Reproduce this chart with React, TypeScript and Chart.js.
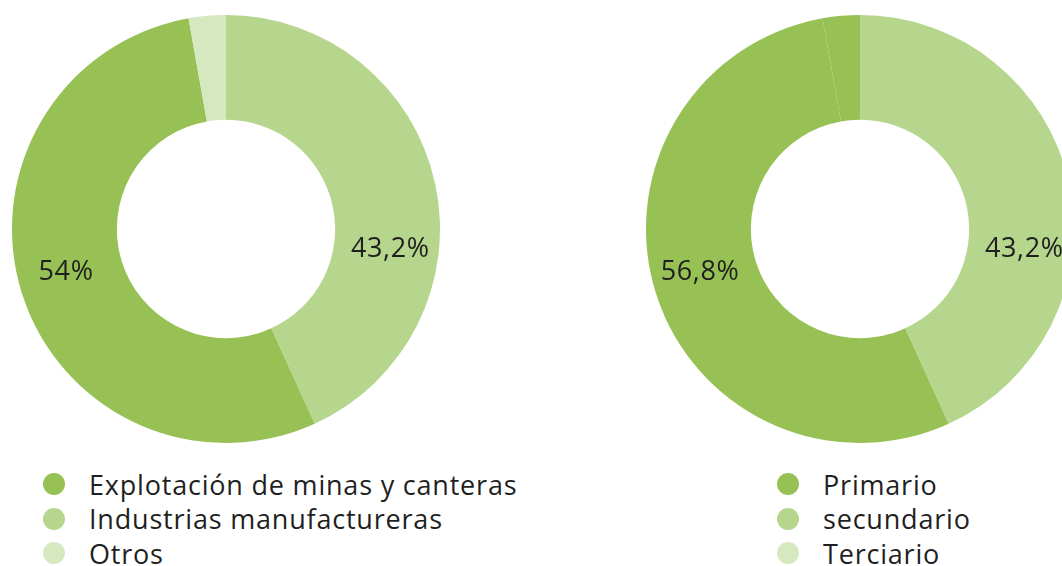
import React, { useEffect, useRef } from "react";
import { Chart, registerables } from "chart.js";

Chart.register(...registerables);

// ---- Data ----
// Left chart (draw order clockwise from top)
const leftCategories = ["Industrias manufactureras", "Explotación de minas y canteras", "Otros"];
const leftValues = [43.2, 54.0, 2.8];
const leftValueLabels = ["43,2%", "54%", ""];
const leftLegend = ["Explotación de minas y canteras", "Industrias manufactureras", "Otros"];

// Right chart (draw order clockwise from top)
const rightCategories = ["secundario", "Primario", "Primario (resto)"];
const rightValues = [43.2, 54.0, 2.8];
const rightValueLabels = ["43,2%", "56,8%", ""];
const rightLegend = ["Primario", "secundario", "Terciario"];

const DARK = "#97c155";
const LIGHT = "#b5d68c";
const PALE = "#d6e8c0";
const TEXT = "#1f1f1f";
const FONT = "'Open Sans', 'Noto Sans', sans-serif";

const leftSliceColors = [LIGHT, DARK, PALE];
const leftLegendColors = [DARK, LIGHT, PALE];
const rightSliceColors = [LIGHT, DARK, DARK];
const rightLegendColors = [DARK, LIGHT, PALE];

// label angle (degrees clockwise from top) per slice
const labelPlugin = {
  id: "sliceLabels",
  afterDatasetsDraw(chart: any, _args: any, opts: any) {
    const meta = chart.getDatasetMeta(0);
    const ctx = chart.ctx;
    ctx.save();
    ctx.font = `${opts.size}px ${FONT}`;
    try {
      (ctx as any).letterSpacing = opts.spacing;
    } catch (e) {}
    ctx.fillStyle = TEXT;
    ctx.textAlign = "center";
    ctx.textBaseline = "middle";
    meta.data.forEach((arc: any, i: number) => {
      const txt = opts.texts[i];
      if (!txt) return;
      const ang = opts.angles[i];
      const r = (arc.innerRadius + arc.outerRadius) / 2 + opts.radiusOffset;
      const a = ((ang - 90) * Math.PI) / 180;
      ctx.fillText(txt, arc.x + r * Math.cos(a), arc.y + r * Math.sin(a));
    });
    ctx.restore();
  },
};

function Donut(props: {
  categories: string[];
  values: number[];
  colors: string[];
  texts: string[];
  angles: number[];
  left: number;
}) {
  const ref = useRef<HTMLCanvasElement>(null);
  useEffect(() => {
    if (!ref.current) return;
    const chart = new Chart(ref.current, {
      type: "doughnut",
      data: {
        labels: props.categories,
        datasets: [
          {
            data: props.values,
            backgroundColor: props.colors,
            borderWidth: 0,
            hoverOffset: 0,
            offset: 0,
          },
        ],
      },
      options: {
        responsive: false,
        animation: false,
        devicePixelRatio: 1,
        cutout: "51%",
        layout: { padding: 0 },
        plugins: {
          legend: { display: false },
          tooltip: { enabled: false },
          sliceLabels: {
            texts: props.texts,
            angles: props.angles,
            size: 27,
            spacing: "0.6px",
            radiusOffset: 4,
          },
        } as any,
      },
      plugins: [labelPlugin],
    });
    return () => chart.destroy();
  }, []);
  return (
    <canvas
      ref={ref}
      width={428}
      height={428}
      style={{ position: "absolute", left: props.left, top: 15, width: 428, height: 428 }}
    />
  );
}

function Legend(props: { labels: string[]; colors: string[]; left: number }) {
  return (
    <div style={{ position: "absolute", left: props.left, top: 467 }}>
      {props.labels.map((l, i) => (
        <div
          key={l}
          style={{
            display: "flex",
            alignItems: "center",
            height: 34.5,
            fontFamily: FONT,
            fontSize: 27,
            letterSpacing: "0.8px",
            color: TEXT,
            whiteSpace: "nowrap",
          }}
        >
          <span
            style={{
              display: "inline-block",
              flex: "0 0 auto",
              width: 22,
              height: 22,
              borderRadius: "50%",
              background: props.colors[i],
              marginRight: 24,
            }}
          />
          <span>{l}</span>
        </div>
      ))}
    </div>
  );
}

export default function App() {
  return (
    <div style={{ position: "absolute", left: 0, top: 0, width: 1062, height: 566, overflow: "hidden" }}>
      <Donut
        categories={leftCategories}
        values={leftValues}
        colors={leftSliceColors}
        texts={leftValueLabels}
        angles={[97, 255, 0]}
        left={12}
      />
      <Donut
        categories={rightCategories}
        values={rightValues}
        colors={rightSliceColors}
        texts={rightValueLabels}
        angles={[97, 255, 0]}
        left={646}
      />
      <Legend labels={leftLegend} colors={leftLegendColors} left={43} />
      <Legend labels={rightLegend} colors={rightLegendColors} left={777} />
    </div>
  );
}
